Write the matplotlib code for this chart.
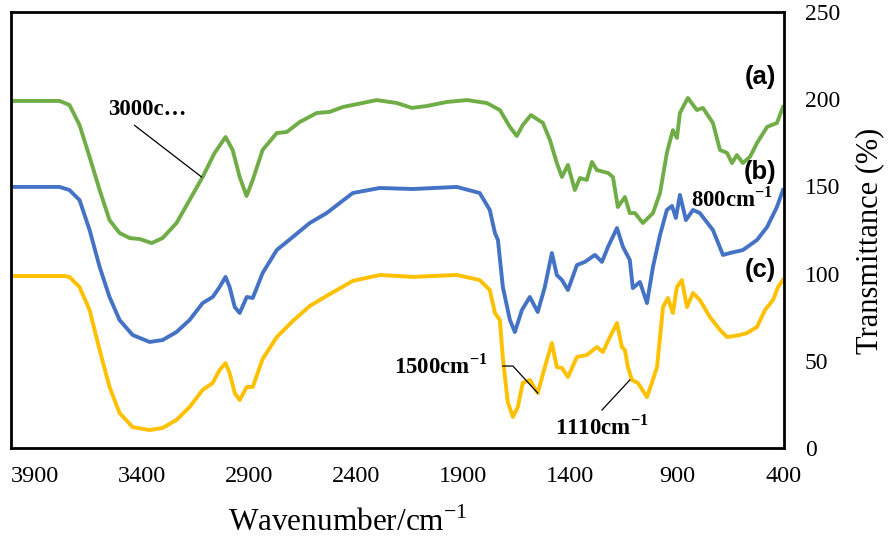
import matplotlib.pyplot as plt

plt.rcParams['font.family'] = ['Liberation Serif', 'DejaVu Serif']
plt.rcParams['mathtext.fontset'] = 'custom'
plt.rcParams['mathtext.rm'] = 'Liberation Serif'
plt.rcParams['mathtext.bf'] = 'Liberation Serif:bold'

# (a) green spectrum
wn_a = [4010, 3783, 3737, 3690, 3643, 3596, 3550, 3503, 3456, 3409, 3353, 3302, 3237,
        3176, 3115, 3059, 3008, 2975, 2942, 2910, 2881, 2835, 2769, 2722, 2662, 2582,
        2522, 2461, 2302, 2208, 2138, 2068, 1975, 1881, 1788, 1727, 1680, 1648, 1620,
        1582, 1526, 1493, 1461, 1437, 1409, 1377, 1353, 1321, 1297, 1274, 1222, 1199,
        1176, 1143, 1120, 1096, 1059, 1012, 979, 947, 919, 900, 886, 849, 807, 779,
        732, 699, 666, 643, 620, 592, 559, 526, 479, 433, 405]
tr_a = [199.0, 199.0, 196.7, 185.2, 166.9, 147.9, 130.7, 123.3, 120.4, 119.8, 117.5,
        120.4, 129.0, 142.2, 155.4, 169.2, 178.3, 170.9, 155.4, 144.5, 153.7, 170.9,
        180.6, 181.2, 186.9, 192.1, 192.7, 195.5, 199.5, 197.8, 195.0, 196.1, 198.4,
        199.5, 197.8, 193.8, 184.1, 178.9, 185.2, 190.9, 186.4, 176.6, 163.4, 155.4,
        162.3, 147.9, 154.8, 153.7, 164.0, 159.4, 157.7, 155.4, 138.2, 143.9, 134.7,
        134.7, 129.0, 134.7, 146.2, 169.2, 182.3, 177.8, 192.1, 200.7, 193.8, 195.0,
        186.4, 170.9, 169.2, 163.4, 168.0, 163.4, 166.9, 174.9, 184.1, 186.4, 195.5]

# (b) blue spectrum
wn_b = [4010, 3783, 3737, 3690, 3643, 3596, 3550, 3503, 3442, 3363, 3302, 3237, 3176,
        3115, 3068, 3036, 3008, 2989, 2965, 2942, 2909, 2881, 2835, 2769, 2694, 2615,
        2536, 2414, 2288, 2134, 1928, 1821, 1774, 1750, 1736, 1713, 1680, 1657, 1624,
        1587, 1550, 1517, 1484, 1461, 1437, 1409, 1367, 1330, 1283, 1250, 1222, 1180,
        1152, 1120, 1106, 1073, 1040, 1012, 979, 947, 923, 905, 886, 858, 825, 793,
        732, 685, 652, 592, 526, 479, 433, 405]
tr_b = [149.7, 149.7, 147.9, 142.2, 125.0, 103.8, 86.6, 73.4, 64.8, 60.8, 61.9, 66.5,
        73.4, 83.1, 86.6, 92.3, 98.1, 92.3, 80.8, 77.4, 86.6, 86.0, 100.3, 113.5, 121.0,
        129.0, 134.7, 146.2, 149.1, 148.5, 149.7, 146.2, 136.5, 123.3, 119.3, 92.3,
        73.4, 66.5, 79.1, 86.6, 78.0, 92.3, 111.8, 99.2, 96.3, 90.6, 104.9, 106.7,
        110.7, 106.7, 115.3, 126.1, 115.3, 107.8, 91.7, 95.2, 83.1, 103.8, 122.1,
        136.5, 138.8, 131.9, 145.1, 130.7, 136.5, 134.7, 125.0, 110.7, 111.8, 113.5,
        119.3, 126.7, 138.2, 147.9]

# (c) yellow spectrum
wn_c = [4010, 3760, 3737, 3690, 3643, 3596, 3550, 3503, 3442, 3363, 3302, 3237, 3176,
        3115, 3068, 3036, 3008, 2989, 2965, 2942, 2909, 2881, 2835, 2769, 2694, 2615,
        2536, 2414, 2288, 2134, 1928, 1821, 1774, 1750, 1727, 1713, 1690, 1666, 1643,
        1620, 1587, 1550, 1517, 1484, 1461, 1437, 1409, 1367, 1321, 1274, 1246, 1213,
        1180, 1157, 1143, 1129, 1110, 1082, 1040, 1017, 993, 965, 942, 919, 900, 877,
        853, 825, 793, 746, 699, 666, 606, 573, 526, 489, 451, 428, 405]
tr_c = [98.6, 98.6, 98.1, 92.3, 79.1, 56.2, 35.0, 20.1, 12.0, 10.3, 11.5, 16.1, 23.5,
        33.3, 37.3, 44.7, 48.7, 43.0, 31.5, 27.5, 35.0, 35.0, 51.0, 63.6, 72.8, 81.4,
        87.2, 95.8, 99.2, 98.1, 99.2, 96.3, 90.6, 77.4, 73.4, 51.6, 26.4, 17.8, 23.5,
        37.3, 39.0, 31.5, 46.4, 60.2, 46.4, 45.9, 40.7, 52.2, 53.3, 57.9, 55.0, 63.6,
        71.7, 57.9, 56.2, 46.4, 39.0, 37.3, 29.2, 37.3, 46.4, 80.8, 86.0, 77.4, 92.3,
        96.3, 80.8, 88.9, 84.9, 75.1, 67.7, 63.6, 64.8, 65.9, 69.4, 79.1, 84.9, 92.3,
        96.3]

x_ticks = [3900, 3400, 2900, 2400, 1900, 1400, 900, 400]
y_ticks = [0, 50, 100, 150, 200, 250]

fig = plt.figure(figsize=(8.88, 5.43), dpi=100)
ax = fig.add_axes([11 / 888, 1 - 448 / 543, 773 / 888, 436 / 543])

ax.plot(wn_a, tr_a, color='#70AD47', lw=2.8, solid_joinstyle='round')
ax.plot(wn_b, tr_b, color='#4472C4', lw=2.8, solid_joinstyle='round')
ax.plot(wn_c, tr_c, color='#FFC000', lw=2.8, solid_joinstyle='round')

ax.set_xlim(4010, 400)
ax.set_ylim(0, 250)
ax.set_xticks(x_ticks)
ax.set_yticks(y_ticks)
ax.yaxis.tick_right()
ax.tick_params(axis='x', length=0, labelsize=17.5, pad=13)
ax.tick_params(axis='y', length=0, labelsize=17, pad=15)
for s in ax.spines.values():
    s.set_linewidth(2)

fig.text(348 / 888, 1 - 523 / 543, 'Wavenumber/cm$^{-1}$', ha='center', va='center', fontsize=22.5)
fig.text(870 / 888, 1 - 241 / 543, 'Transmittance (%)', rotation=90, ha='center', va='center',
         fontsize=22)

# series labels
for txt, yy in [('(a)', 213), ('(b)', 158), ('(c)', 102)]:
    ax.text(510, yy, txt, fontsize=18.5, fontweight='bold', family='Liberation Sans',
            ha='center', va='center')

# peak annotations
ann = dict(fontsize=16.5, fontweight='bold', ha='center', va='center')
ax.text(3372, 194, '3000c\u2026', **ann)
ax.plot([3433, 3120], [185, 155.4], color='black', lw=0.9)

ax.text(643, 142.5, '800cm$^{\\mathbf{-1}}$', **ann)

ax.text(2003, 47, '1500cm$^{\\mathbf{-1}}$', **ann)
ax.plot([1713, 1666, 1550], [47, 47, 31.5], color='black', lw=0.9)

ax.text(1250, 12, '1110cm$^{\\mathbf{-1}}$', **ann)
ax.plot([1250, 1120], [21.8, 39.0], color='black', lw=0.9)

fig.savefig('out.png', dpi=100)
